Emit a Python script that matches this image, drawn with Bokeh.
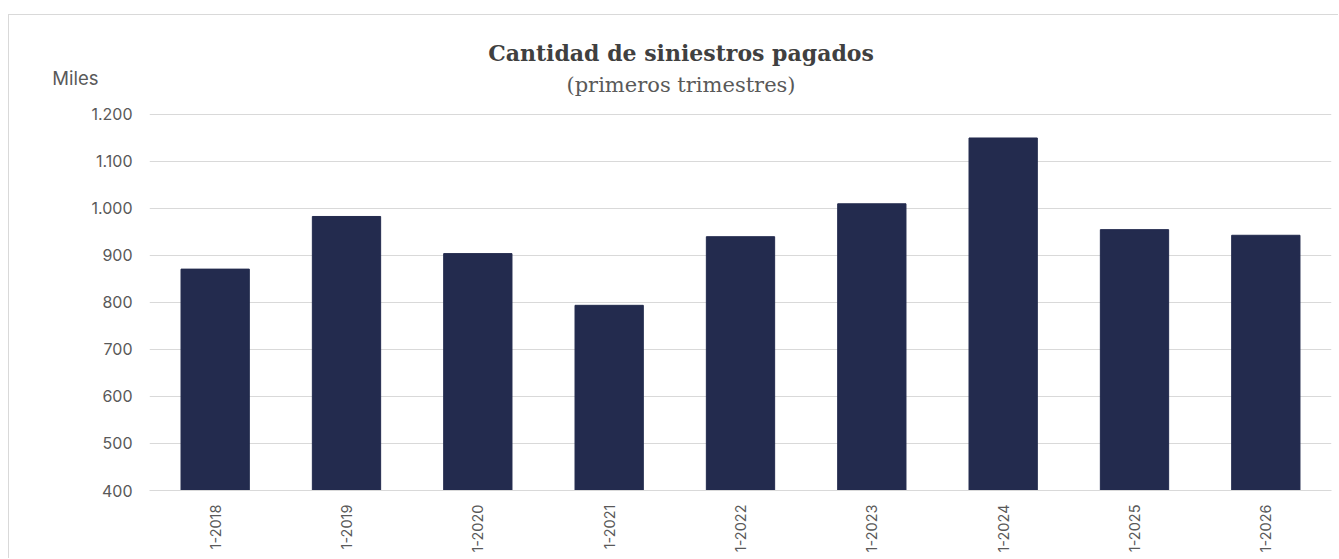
from bokeh.plotting import figure
from bokeh.models import Label, FixedTicker, LinearAxis
from bokeh.embed import file_html
from bokeh.resources import INLINE

categories = ["1-2018", "1-2019", "1-2020", "1-2021", "1-2022", "1-2023", "1-2024", "1-2025", "1-2026"]
values = [871, 983, 904, 794, 940, 1010, 1150, 955, 943]
y_ticks = [400, 500, 600, 700, 800, 900, 1000, 1100, 1200]
y_tick_labels = {400: "400", 500: "500", 600: "600", 700: "700", 800: "800", 900: "900",
                 1000: "1.000", 1100: "1.100", 1200: "1.200"}

TXT = "#595959"
FONT = "Inter"

# frame extends up to the top of the chart so the titles sit inside it
p = figure(x_range=categories, y_range=(400, 1410.6), width=1330, height=544,
           output_backend="svg", toolbar_location=None,
           min_border_left=140, min_border_right=8, min_border_top=0, min_border_bottom=69)
p.styles = {"margin-left": "8px", "margin-top": "14px",
            "border-left": "1px solid #d9d9d9", "border-top": "1px solid #d9d9d9"}
p.outline_line_color = None
p.background_fill_color = "white"
p.border_fill_color = "white"

p.vbar(x=categories, top=values, bottom=400, width=0.52, color="#232B4E")

p.xgrid.grid_line_color = None
p.ygrid.grid_line_color = "#d9d9d9"
p.ygrid.grid_line_width = 1
p.yaxis.ticker = FixedTicker(ticks=y_ticks)
p.yaxis.major_label_overrides = y_tick_labels
p.yaxis.axis_line_color = None
p.yaxis.major_tick_line_color = None
p.yaxis.minor_tick_line_color = None
p.yaxis.major_label_text_font = FONT
p.yaxis.major_label_text_font_size = "16px"
p.yaxis.major_label_text_color = TXT
p.yaxis.major_label_standoff = 11

# unit label "Miles" shown via an extra left axis carrying a single label
unit_axis = LinearAxis(ticker=FixedTicker(ticks=[1278]), major_label_overrides={1278: "Miles"})
unit_axis.axis_line_color = None
unit_axis.major_tick_line_color = None
unit_axis.minor_tick_line_color = None
unit_axis.major_label_text_font = FONT
unit_axis.major_label_text_font_size = "18.5px"
unit_axis.major_label_text_color = TXT
unit_axis.major_label_standoff = -16
p.add_layout(unit_axis, "left")

p.xaxis.axis_line_color = "#d9d9d9"
p.xaxis.major_tick_line_color = None
p.xaxis.minor_tick_line_color = None
p.xaxis.major_label_orientation = 1.5708
p.xaxis.major_label_text_font = FONT
p.xaxis.major_label_text_font_size = "14.5px"
p.xaxis.major_label_text_color = TXT
p.xaxis.major_label_standoff = 8

p.add_layout(Label(x=4.047, y=1331, text="Cantidad de siniestros pagados",
                   text_font="DejaVu Serif", text_font_style="bold", text_font_size="22px",
                   text_color="#404040", text_align="center", text_baseline="alphabetic"))
p.add_layout(Label(x=4.047, y=1263, text="(primeros trimestres)",
                   text_font="DejaVu Serif", text_font_size="21px",
                   text_color=TXT, text_align="center", text_baseline="alphabetic"))

open("out.html", "w").write(file_html(p, INLINE))
